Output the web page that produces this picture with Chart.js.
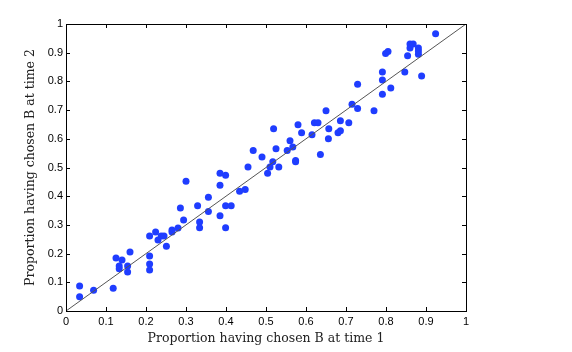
<!DOCTYPE html>
<html>
<head>
<meta charset="utf-8">
<script src="https://cdn.jsdelivr.net/npm/chart.js@4.4.0/dist/chart.umd.min.js"></script>
<style>
  html, body { margin: 0; padding: 0; background: #fff; }
  #wrap { width: 572px; height: 352px; }
</style>
</head>
<body>
<div id="wrap"><canvas id="myChart" width="572" height="352"></canvas></div>
<script>
// proportion choosing B at time 1 / time 2
var time1 = [0.034, 0.034, 0.069, 0.118, 0.125, 0.140, 0.133, 0.133, 0.154, 0.154,
             0.160, 0.209, 0.209, 0.209, 0.209, 0.224, 0.230, 0.238, 0.245, 0.251,
             0.265, 0.265, 0.280, 0.286, 0.294, 0.300, 0.329, 0.334, 0.334, 0.356,
             0.356, 0.385, 0.399, 0.385, 0.399, 0.413, 0.385, 0.399, 0.434, 0.448,
             0.455, 0.468, 0.490, 0.504, 0.510, 0.517, 0.519, 0.525, 0.532, 0.553,
             0.560, 0.567, 0.574, 0.574, 0.580, 0.589, 0.615, 0.621, 0.630, 0.636,
             0.650, 0.656, 0.657, 0.680, 0.686, 0.686, 0.707, 0.715, 0.729, 0.729,
             0.770, 0.791, 0.791, 0.791, 0.799, 0.805, 0.812, 0.847, 0.854, 0.860,
             0.860, 0.868, 0.881, 0.881, 0.881, 0.889, 0.924];
var time2 = [0.087, 0.050, 0.072, 0.079, 0.185, 0.178, 0.157, 0.147, 0.157, 0.136,
             0.206, 0.261, 0.192, 0.164, 0.143, 0.275, 0.247, 0.261, 0.261, 0.226,
             0.282, 0.275, 0.289, 0.359, 0.317, 0.452, 0.367, 0.310, 0.290, 0.396,
             0.347, 0.480, 0.473, 0.438, 0.367, 0.367, 0.332, 0.290, 0.417, 0.423,
             0.502, 0.559, 0.537, 0.480, 0.502, 0.520, 0.635, 0.565, 0.502, 0.559,
             0.593, 0.571, 0.520, 0.524, 0.649, 0.621, 0.614, 0.656, 0.656, 0.545,
             0.698, 0.600, 0.635, 0.621, 0.663, 0.628, 0.656, 0.720, 0.790, 0.706,
             0.698, 0.833, 0.805, 0.755, 0.897, 0.904, 0.777, 0.833, 0.889, 0.930,
             0.916, 0.930, 0.916, 0.906, 0.895, 0.819, 0.966];
var diagonal = [0, 1];
var tickValues = [0, 0.1, 0.2, 0.3, 0.4, 0.5, 0.6, 0.7, 0.8, 0.9, 1];

var points = time1.map(function (v, i) { return {x: v, y: time2[i]}; });
var diagPoints = diagonal.map(function (v) { return {x: v, y: v}; });

// matlab style box with inward ticks
var boxTicks = {
    id: 'boxTicks',
    afterDraw: function (chart) {
        var c = chart.ctx, a = chart.chartArea;
        var xs = chart.scales.x, ys = chart.scales.y;
        c.save();
        c.strokeStyle = '#000';
        c.lineWidth = 1;
        c.beginPath();
        tickValues.forEach(function (t) {
            var px = Math.round(xs.getPixelForValue(t)) + 0.5;
            var py = Math.round(ys.getPixelForValue(t)) + 0.5;
            c.moveTo(px, a.bottom); c.lineTo(px, a.bottom - 4);
            c.moveTo(px, a.top); c.lineTo(px, a.top + 4);
            c.moveTo(a.left, py); c.lineTo(a.left + 4, py);
            c.moveTo(a.right, py); c.lineTo(a.right - 4, py);
        });
        c.stroke();
        c.strokeRect(Math.round(a.left) + 0.5, Math.round(a.top) + 0.5,
                     Math.round(a.right - a.left), Math.round(a.bottom - a.top));
        c.restore();
    }
};

var ctx = document.getElementById('myChart').getContext('2d');
var myChart = new Chart(ctx, {
    type: 'scatter',
    data: {
        datasets: [{
            data: diagPoints,
            showLine: true,
            borderColor: '#555',
            borderWidth: 1,
            pointRadius: 0
        }, {
            data: points,
            backgroundColor: '#1f3dff',
            borderColor: '#1f3dff',
            pointRadius: 3.5,
            borderWidth: 0
        }]
    },
    options: {
        responsive: false,
        animation: false,
        layout: { padding: { top: 24, right: 106, left: 0, bottom: 0 } },
        plugins: {
            legend: { display: false },
            tooltip: { enabled: false }
        },
        scales: {
            x: {
                type: 'linear', min: 0, max: 1,
                afterBuildTicks: function (s) { s.ticks = tickValues.map(function (v) { return {value: v}; }); },
                afterFit: function (s) { s.height = 41; },
                grid: { display: false, drawTicks: false },
                border: { display: false },
                ticks: {
                    color: '#000', padding: 4,
                    font: { family: 'Liberation Sans', size: 11 },
                    callback: function (v) { return String(v); }
                },
                title: {
                    display: true, text: 'Proportion having chosen B at time 1',
                    color: '#222', padding: { top: 0, bottom: 6 },
                    font: { family: 'DejaVu Serif', size: 12.5 }
                }
            },
            y: {
                type: 'linear', min: 0, max: 1,
                afterBuildTicks: function (s) { s.ticks = tickValues.map(function (v) { return {value: v}; }); },
                afterFit: function (s) { s.width = 66; },
                grid: { display: false, drawTicks: false },
                border: { display: false },
                ticks: {
                    color: '#000', padding: 3,
                    font: { family: 'Liberation Sans', size: 11 },
                    callback: function (v) { return String(v); }
                },
                title: {
                    display: true, text: 'Proportion having chosen B at time 2',
                    color: '#222', padding: { top: 23, bottom: 0 },
                    font: { family: 'DejaVu Serif', size: 12.5 }
                }
            }
        }
    },
    plugins: [boxTicks]
});
</script>
</body>
</html>
